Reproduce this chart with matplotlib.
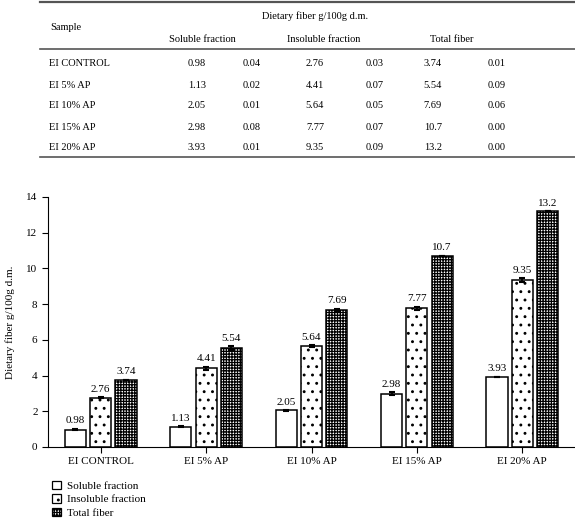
import numpy as np
import matplotlib.pyplot as plt
from matplotlib.patches import Patch

plt.rcParams['font.family'] = ['Liberation Serif', 'DejaVu Serif']

samples = ['EI CONTROL', 'EI 5% AP', 'EI 10% AP', 'EI 15% AP', 'EI 20% AP']
soluble = [0.98, 1.13, 2.05, 2.98, 3.93]
soluble_sd = [0.04, 0.02, 0.01, 0.08, 0.01]
insoluble = [2.76, 4.41, 5.64, 7.77, 9.35]
insoluble_sd = [0.03, 0.07, 0.05, 0.07, 0.09]
total = [3.74, 5.54, 7.69, 10.7, 13.2]
total_sd = [0.01, 0.09, 0.06, 0.00, 0.00]
series_names = ['Soluble fraction', 'Insoluble fraction', 'Total fiber']

fig = plt.figure(figsize=(5.75, 5.18), dpi=100)

# ---- table on top (pixel coordinates) ----
tab = fig.add_axes([0, 0, 1, 1])
tab.set_xlim(0, 575)
tab.set_ylim(518, 0)
tab.axis('off')
line_col = '#555555'
tab.plot([40, 575], [2, 2], color=line_col, lw=1.6)
tab.plot([40, 575], [49, 49], color=line_col, lw=1.2)
tab.plot([40, 575], [157, 157], color=line_col, lw=1.2)
fs_tab = 7.5
tab.text(50, 28, 'Sample', fontsize=fs_tab, va='center', ha='left')
tab.text(315, 16, 'Dietary fiber g/100g d.m.', fontsize=fs_tab, va='center', ha='center')
for name, xc in zip(series_names, [202, 324, 452]):
    tab.text(xc, 40, name, fontsize=fs_tab, va='center', ha='center')
col_x = [197, 252, 315, 375, 433, 497]
row_y = [64, 85, 106, 127, 148]
for i, s in enumerate(samples):
    y = row_y[i]
    tab.text(49, y, s, fontsize=fs_tab, va='center', ha='left')
    vals = [f'{soluble[i]:.2f}', f'{soluble_sd[i]:.2f}',
            f'{insoluble[i]:.2f}', f'{insoluble_sd[i]:.2f}',
            f'{total[i]:.3g}' if total[i] >= 10 else f'{total[i]:.2f}',
            f'{total_sd[i]:.2f}']
    for xc, v in zip(col_x, vals):
        tab.text(xc, y, v, fontsize=fs_tab, va='center', ha='center')

# ---- bar chart ----
ax = fig.add_axes([48 / 575, 1 - 447 / 518, 527 / 575, 250 / 518])
x = np.arange(len(samples))
w = 0.2
step = 0.24
hatches = [None, '..', '++++++']
data = [(soluble, soluble_sd), (insoluble, insoluble_sd), (total, total_sd)]
plt.rcParams['hatch.linewidth'] = 0.9
for k, ((vals, sd), h) in enumerate(zip(data, hatches)):
    pos = x + (k - 1) * step
    ax.bar(pos, vals, width=w, color='white', edgecolor='black', linewidth=1.1,
           hatch=h, label=series_names[k], zorder=2)
    ax.errorbar(pos, vals, yerr=sd, fmt='none', ecolor='black', elinewidth=1.2,
                capsize=2, capthick=1.5, zorder=3)
    for p, v, e in zip(pos, vals, sd):
        lab = f'{v:.3g}' if v >= 10 else f'{v:.2f}'
        ax.text(p, v + e + 0.2, lab, ha='center', va='bottom', fontsize=8)

ax.set_xlim(-0.5, 4.5)
ax.set_ylim(0, 14)
ax.set_yticks(np.arange(0, 15, 2))
ax.set_xticks(x)
ax.set_xticklabels(samples)
ax.tick_params(labelsize=8, length=4, width=0.8)
ax.spines['top'].set_visible(False)
ax.spines['right'].set_visible(False)
ax.set_ylabel('Dietary fiber g/100g d.m.', fontsize=8, labelpad=8)

handles = [Patch(facecolor='white', edgecolor='black', hatch=h, linewidth=0.9) for h in hatches]
fig.legend(handles, series_names, loc='upper left', bbox_to_anchor=(44 / 575, 1 - 473 / 518),
           frameon=False, fontsize=8, handlelength=0.8, handleheight=0.8,
           labelspacing=0.3, handletextpad=0.6, borderpad=0.2)

fig.savefig('out.png', dpi=100)
